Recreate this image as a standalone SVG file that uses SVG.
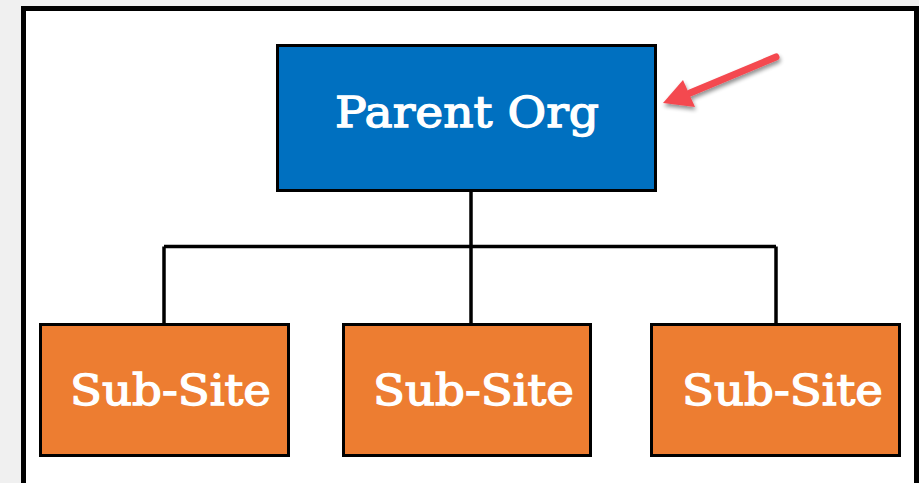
<svg xmlns="http://www.w3.org/2000/svg" width="919" height="483" viewBox="0 0 919 483">
  <style>
    .box { stroke: #000; stroke-width: 3; }
    .parent { fill: #0070C0; }
    .child { fill: #ED7D31; }
    .label { font-family: "DejaVu Serif", "Liberation Serif", serif; fill: #fff; stroke: #fff; stroke-width: 1.3; }
    .wire { fill: none; stroke: #000; stroke-width: 3.5; }
  </style>
  <defs>
    <filter id="shadow" x="-20%" y="-30%" width="150%" height="180%">
      <feGaussianBlur in="SourceAlpha" stdDeviation="2"/>
      <feOffset dx="1" dy="3" result="b"/>
      <feComponentTransfer><feFuncA type="linear" slope="0.45"/></feComponentTransfer>
      <feMerge><feMergeNode/><feMergeNode in="SourceGraphic"/></feMerge>
    </filter>
  </defs>

  <!-- page background and frame -->
  <rect x="0" y="0" width="919" height="483" fill="#f0f0f0"/>
  <rect x="23.5" y="8.5" width="893" height="500" fill="#fff" stroke="#000" stroke-width="5"/>

  <!-- connectors -->
  <g id="connectors">
    <path class="wire" d="M471 192 V323"/>
    <path class="wire" d="M164 246.5 H776"/>
    <path class="wire" d="M164 246.5 V324"/>
    <path class="wire" d="M776 246.5 V324"/>
  </g>

  <g id="parent">
    <rect class="box parent" x="277.5" y="45.5" width="378" height="145"/>
    <text class="label" x="467" y="127" font-size="43" text-anchor="middle" textLength="264" lengthAdjust="spacingAndGlyphs">Parent Org</text>
  </g>

  <g id="sub1">
    <rect class="box child" x="40.5" y="324.5" width="248" height="131"/>
    <text class="label" x="170.5" y="405" font-size="42" text-anchor="middle" textLength="201" lengthAdjust="spacingAndGlyphs">Sub-Site</text>
  </g>
  <g id="sub2">
    <rect class="box child" x="343.5" y="324.5" width="247" height="131"/>
    <text class="label" x="473.5" y="405" font-size="42" text-anchor="middle" textLength="201" lengthAdjust="spacingAndGlyphs">Sub-Site</text>
  </g>
  <g id="sub3">
    <rect class="box child" x="651.5" y="324.5" width="248" height="131"/>
    <text class="label" x="782.5" y="405" font-size="42" text-anchor="middle" textLength="201" lengthAdjust="spacingAndGlyphs">Sub-Site</text>
  </g>

  <!-- callout arrow pointing at the parent box -->
  <g id="callout" filter="url(#shadow)">
    <path d="M776 57 L690 93" stroke="#F44850" stroke-width="7" stroke-linecap="round" fill="none"/>
    <polygon points="663,103 683,80 695,107" fill="#F44850"/>
  </g>
</svg>
